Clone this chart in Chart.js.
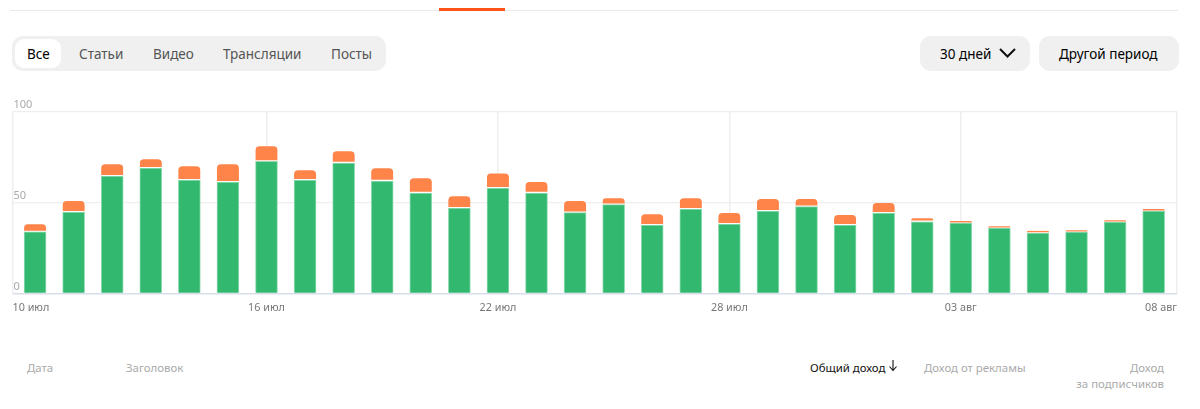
<!DOCTYPE html>
<html lang="ru">
<head>
<meta charset="utf-8">
<script src="https://cdn.jsdelivr.net/npm/chart.js@4/dist/chart.umd.min.js"></script>
<style>
  html, body { margin: 0; padding: 0; background: #fff; overflow: hidden; }
  body { width: 1200px; height: 409px; position: relative; font-family: 'Noto Sans', sans-serif; }
  .abs { position: absolute; white-space: nowrap; }
  .pill { background: #f0f0f0; border-radius: 11px; top: 36px; height: 35px; }
  .tab { top: 37px; line-height: 35px; font-size: 13.5px; color: #555; }
  .head { font-size: 11.4px; color: #aaa; line-height: 16px; }
  #wrap { position: absolute; left: 0; top: 100px; width: 1200px; height: 225px; }
</style>
</head>
<body>
<div class="abs" style="left:10px;top:10px;width:1168px;height:1px;background:#eaeaea"></div>
<div class="abs" style="left:439px;top:8px;width:66px;height:3px;background:#ff5219"></div>

<div class="abs pill" style="left:12px;width:374px"></div>
<div class="abs" style="left:15px;top:39px;width:46px;height:29px;background:#fff;border-radius:9px"></div>
<div class="abs tab" style="left:27px;color:#000">Все</div>
<div class="abs tab" style="left:79px">Статьи</div>
<div class="abs tab" style="left:153px">Видео</div>
<div class="abs tab" style="left:223px">Трансляции</div>
<div class="abs tab" style="left:331px">Посты</div>

<div class="abs pill" style="left:920px;width:110px"></div>
<div class="abs tab" style="left:940px;color:#000">30 дней</div>
<svg class="abs" style="left:998px;top:47px" width="19" height="12" viewBox="0 0 19 12"><path d="M2 2 L9.5 9.5 L17 2" fill="none" stroke="#111" stroke-width="2"/></svg>
<div class="abs pill" style="left:1039px;width:140px"></div>
<div class="abs tab" style="left:1059px;color:#000">Другой период</div>

<div id="wrap"><canvas id="chart"></canvas></div>

<div class="abs head" style="left:27px;top:360px">Дата</div>
<div class="abs head" style="left:126px;top:360px">Заголовок</div>
<div class="abs head" style="left:810px;top:360px;color:#111">Общий доход</div>
<svg class="abs" style="left:888px;top:359px" width="10" height="13" viewBox="0 0 10 13"><path d="M5 1 V11 M1.5 7.5 L5 11.5 L8.5 7.5" fill="none" stroke="#111" stroke-width="1.1"/></svg>
<div class="abs head" style="left:924px;top:360px">Доход от рекламы</div>
<div class="abs head" style="right:36px;top:360px">Доход</div>
<div class="abs head" style="right:36px;top:376px">за подписчиков</div>

<script>
const categories = [
    '10 июл', '11 июл', '12 июл', '13 июл', '14 июл', '15 июл', '16 июл', '17 июл', '18 июл', '19 июл',
    '20 июл', '21 июл', '22 июл', '23 июл', '24 июл', '25 июл', '26 июл', '27 июл', '28 июл', '29 июл',
    '30 июл', '31 июл', '01 авг', '02 авг', '03 авг', '04 авг', '05 авг', '06 авг', '07 авг', '08 авг'
];
const adIncome = [
    33.9, 44.7, 64.5, 68.9, 62.3, 61.2, 72.6, 62.3, 71.7, 61.8,
    55.2, 46.9, 57.9, 55.2, 44.4, 48.8, 37.6, 46.4, 38.1, 45.3,
    47.7, 37.6, 44.2, 39.4, 38.7, 35.9, 33.2, 33.7, 39.2, 45.3
];
const subscriptionIncome = [
    4.2, 6.1, 6.5, 4.8, 7.6, 9.8, 8.3, 5.4, 6.4, 7.0,
    8.1, 6.6, 8.1, 6.0, 6.4, 3.6, 6.0, 6.0, 6.1, 6.6,
    4.2, 5.5, 5.5, 2.0, 1.1, 1.1, 1.3, 1.1, 1.1, 1.1
];
const xTickIndexes = [6, 12, 18, 24];
const yTicks = [0, 50, 100];

// the axis runs a bit past the first and last bar
const xMin = -0.585;
const xMax = 29.605;

const toPoints = (values) => values.map((v, i) => ({ x: i, y: v }));

new Chart(document.getElementById('chart'), {
    type: 'bar',
    data: {
        datasets: [
            {
                data: toPoints(adIncome),
                backgroundColor: '#32b96f',
                borderColor: '#93dcb4',
                borderWidth: { top: 1, left: 1, right: 1, bottom: 0 },
                borderSkipped: false,
                barThickness: 22
            },
            {
                data: toPoints(subscriptionIncome),
                backgroundColor: '#ff844a',
                borderColor: '#ffffff',
                borderWidth: { top: 0, left: 0, right: 0, bottom: 1.5 },
                borderSkipped: false,
                borderRadius: { topLeft: 4, topRight: 4, bottomLeft: 0, bottomRight: 0 },
                barThickness: 22
            }
        ]
    },
    options: {
        responsive: true,
        maintainAspectRatio: false,
        animation: false,
        layout: {
            autoPadding: false,
            padding: { left: 12.5, right: 23, top: 11.5, bottom: 0 }
        },
        plugins: {
            legend: { display: false },
            tooltip: { enabled: false }
        },
        scales: {
            x: {
                type: 'linear',
                stacked: true,
                offset: false,
                min: xMin,
                max: xMax,
                afterBuildTicks: (axis) => {
                    axis.ticks = [xMin, ...xTickIndexes, xMax].map((v) => ({ value: v }));
                },
                afterFit: (axis) => { axis.height = 31.5; },
                grid: {
                    offset: false,
                    color: '#eeeeee',
                    lineWidth: 1.5,
                    drawTicks: false
                },
                border: { display: false },
                ticks: {
                    autoSkip: false,
                    maxRotation: 0,
                    align: 'inner',
                    padding: 8,
                    color: '#777777',
                    font: { family: "'Noto Sans', sans-serif", size: 10.8 },
                    callback: (value) => {
                        const i = Math.max(0, Math.min(categories.length - 1, Math.round(value)));
                        return categories[i];
                    }
                }
            },
            y: {
                stacked: true,
                min: 0,
                max: 100,
                afterBuildTicks: (axis) => {
                    axis.ticks = yTicks.map((v) => ({ value: v }));
                },
                afterFit: (axis) => { axis.width = 0; },
                grid: {
                    color: (c) => (c.tick.value === 0 ? '#d7dde9' : '#eeeeee'),
                    lineWidth: (c) => (c.tick.value === 0 ? 1.5 : 1.2),
                    drawTicks: false
                },
                border: { display: false },
                ticks: {
                    mirror: true,
                    padding: 1,
                    labelOffset: -7,
                    color: '#aaaaaa',
                    font: { family: "'Noto Sans', sans-serif", size: 11 }
                }
            }
        }
    }
});
</script>
</body>
</html>
